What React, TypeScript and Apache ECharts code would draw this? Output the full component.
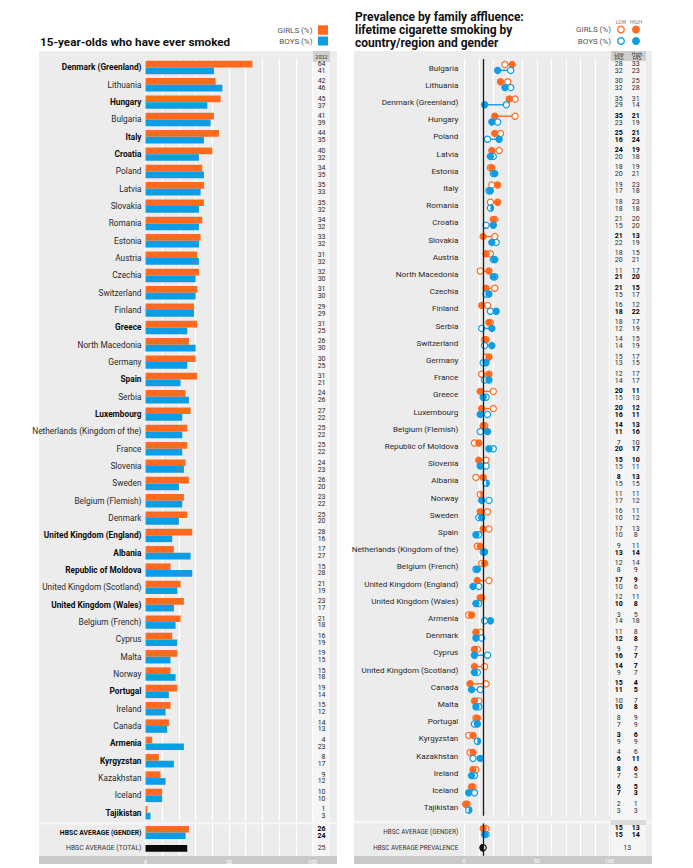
import React, { useEffect, useRef } from "react";
import * as echarts from "echarts";

const ORANGE = "#FF6A1F";
const BLUE = "#0E9DE2";
const LABEL_FONT = "Roboto, sans-serif";
const TITLE_FONT = "Roboto, 'Noto Sans', sans-serif";

// ---------- Left panel: 15-year-olds who have ever smoked ----------
const leftCountries = [
  "Denmark (Greenland)", "Lithuania", "Hungary", "Bulgaria", "Italy", "Croatia", "Poland", "Latvia",
  "Slovakia", "Romania", "Estonia", "Austria", "Czechia", "Switzerland", "Finland", "Greece",
  "North Macedonia", "Germany", "Spain", "Serbia", "Luxembourg", "Netherlands (Kingdom of the)",
  "France", "Slovenia", "Sweden", "Belgium (Flemish)", "Denmark", "United Kingdom (England)",
  "Albania", "Republic of Moldova", "United Kingdom (Scotland)", "United Kingdom (Wales)",
  "Belgium (French)", "Cyprus", "Malta", "Norway", "Portugal", "Ireland", "Canada", "Armenia",
  "Kyrgyzstan", "Kazakhstan", "Iceland", "Tajikistan",
];
const leftGirls = [64, 42, 45, 41, 44, 40, 34, 35, 35, 34, 33, 31, 32, 31, 29, 31, 26, 30, 31, 24, 27, 25, 25, 24, 26, 23, 25, 28, 17, 15, 21, 23, 21, 16, 19, 15, 19, 15, 14, 4, 8, 9, 10, 1];
const leftBoys = [41, 46, 37, 39, 35, 32, 35, 33, 32, 32, 32, 32, 30, 30, 29, 25, 30, 25, 21, 26, 22, 22, 22, 23, 20, 22, 20, 16, 27, 28, 19, 17, 18, 19, 15, 18, 14, 12, 13, 23, 17, 12, 10, 3];
const leftBold = [
  "Denmark (Greenland)", "Hungary", "Italy", "Croatia", "Greece", "Spain", "Luxembourg",
  "United Kingdom (England)", "Albania", "Republic of Moldova", "United Kingdom (Wales)",
  "Portugal", "Armenia", "Kyrgyzstan", "Tajikistan",
];
const leftAvgGenderLabel = ["HBSC AVERAGE (GENDER)"];
const leftAvgGirls = [26];
const leftAvgBoys = [24];
const leftAvgTotalLabel = ["HBSC AVERAGE (TOTAL)"];
const leftAvgTotal = [25];
const leftYear = "2022";

// ---------- Right panel: prevalence by family affluence ----------
const rightCountries = [
  "Bulgaria", "Lithuania", "Denmark (Greenland)", "Hungary", "Poland", "Latvia", "Estonia", "Italy",
  "Romania", "Croatia", "Slovakia", "Austria", "North Macedonia", "Czechia", "Finland", "Serbia",
  "Switzerland", "Germany", "France", "Greece", "Luxembourg", "Belgium (Flemish)",
  "Republic of Moldova", "Slovenia", "Albania", "Norway", "Sweden", "Spain",
  "Netherlands (Kingdom of the)", "Belgium (French)", "United Kingdom (England)",
  "United Kingdom (Wales)", "Armenia", "Denmark", "Cyprus", "United Kingdom (Scotland)", "Canada",
  "Malta", "Portugal", "Kyrgyzstan", "Kazakhstan", "Ireland", "Iceland", "Tajikistan",
];
const girlsLow = [28, 30, 35, 35, 25, 24, 18, 19, 18, 21, 21, 18, 11, 21, 16, 18, 14, 15, 12, 20, 20, 14, 7, 15, 8, 11, 16, 17, 9, 12, 17, 12, 3, 11, 9, 14, 15, 10, 8, 3, 4, 8, 6, 2];
const girlsHigh = [33, 25, 31, 21, 21, 19, 19, 23, 23, 20, 13, 15, 17, 15, 12, 17, 15, 17, 17, 11, 12, 13, 10, 10, 13, 11, 11, 13, 11, 14, 9, 11, 5, 8, 7, 7, 4, 7, 9, 6, 6, 6, 5, 1];
const boysLow = [32, 32, 29, 23, 16, 20, 20, 17, 18, 15, 22, 20, 21, 15, 18, 12, 14, 13, 14, 15, 16, 11, 20, 15, 15, 17, 10, 10, 13, 8, 10, 10, 14, 12, 16, 9, 11, 10, 7, 9, 6, 7, 7, 3];
const boysHigh = [23, 28, 14, 19, 24, 18, 21, 18, 18, 20, 19, 21, 20, 17, 22, 19, 19, 15, 17, 13, 11, 16, 17, 11, 15, 12, 12, 8, 14, 9, 6, 8, 18, 8, 7, 7, 5, 8, 9, 9, 11, 5, 3, 3];
const girlsBoldR = [
  "Hungary", "Poland", "Latvia", "Slovakia", "Czechia", "Greece", "Luxembourg", "Belgium (Flemish)",
  "Slovenia", "Albania", "United Kingdom (England)", "United Kingdom (Scotland)", "Canada",
  "Kyrgyzstan", "Ireland", "Iceland",
];
const boysBoldR = [
  "Poland", "North Macedonia", "Finland", "Luxembourg", "Belgium (Flemish)", "Republic of Moldova",
  "Netherlands (Kingdom of the)", "United Kingdom (Wales)", "Denmark", "Cyprus", "Canada", "Malta",
  "Kazakhstan", "Iceland",
];
const rightAvgLabels = ["HBSC AVERAGE (GENDER)", "HBSC AVERAGE PREVALENCE"];
const avgGirlsLow = 15;
const avgGirlsHigh = 13;
const avgBoysLow = 15;
const avgBoysHigh = 14;
const avgPrevalence = 13;

const xTicks = [0, 50, 100];

export default function App() {
  const ref = useRef<HTMLDivElement>(null);

  useEffect(() => {
    const chart = echarts.init(ref.current!, undefined, { renderer: "svg" });

    const mkRich = (size: number, small: number) => ({
      n: { fontSize: size, fontFamily: LABEL_FONT, color: "#2a2a2a" },
      b: { fontSize: size, fontFamily: LABEL_FONT, color: "#0d0d0d", fontWeight: "bold" },
      sn: { fontSize: small, fontFamily: LABEL_FONT, color: "#333" },
      sb: { fontSize: small, fontFamily: LABEL_FONT, color: "#0d0d0d", fontWeight: "bold" },
    });
    const labelRich = mkRich(8.3, 6.8);
    const labelRichR = mkRich(8.1, 6.3);
    const numRich = {
      n: { fontSize: 7, lineHeight: 6.8, fontFamily: LABEL_FONT, color: "#2a2a2a" },
      b: { fontSize: 7, lineHeight: 6.8, fontFamily: LABEL_FONT, color: "#000", fontWeight: "bold" },
    };

    const xAxisBase = (gridIndex: number, showLabels: boolean) => ({
      type: "value",
      gridIndex,
      min: 0,
      max: 100,
      interval: 10,
      axisLine: { show: false },
      axisTick: { show: false },
      splitLine: { show: true, lineStyle: { color: "#ffffff", width: 1.2 } },
      axisLabel: {
        show: showLabels,
        margin: 2.5,
        fontSize: 5.5,
        color: "#ffffff",
        fontFamily: LABEL_FONT,
        formatter: (v: number) => (xTicks.includes(v) ? String(v) : ""),
      },
    });

    const catAxis = (gridIndex: number, data: string[], extra: any) => ({
      type: "category",
      gridIndex,
      data,
      inverse: true,
      axisLine: { show: false },
      axisTick: { show: false },
      splitLine: { show: false },
      ...extra,
    });

    const leftGrid = { left: 145.5, width: 167 };
    const rightGrid = { left: 464.3, width: 145 };

    const grids = [
      { ...leftGrid, top: 58.8, height: 762.6 },
      { ...leftGrid, top: 824.6, height: 15.8 },
      { ...leftGrid, top: 840.4, height: 15.8 },
      { ...rightGrid, top: 58.9, height: 756.8 },
      { ...rightGrid, top: 823.4, height: 32.4 },
    ];

    const yAxes = [
      catAxis(0, leftCountries, {
        position: "left",
        axisLabel: {
          margin: 4,
          formatter: (v: string) => (leftBold.includes(v) ? `{b|${v}}` : `{n|${v}}`),
          rich: labelRich,
        },
      }),
      catAxis(0, leftCountries, {
        position: "right",
        axisLabel: {
          margin: 13,
          align: "right",
          formatter: (_v: string, i: number) => `{n|${leftGirls[i]}}\n{n|${leftBoys[i]}}`,
          rich: numRich,
        },
      }),
      catAxis(1, leftAvgGenderLabel, {
        position: "left",
        axisLabel: { margin: 4, formatter: (v: string) => `{sb|${v}}`, rich: labelRich },
      }),
      catAxis(1, leftAvgGenderLabel, {
        position: "right",
        axisLabel: {
          margin: 13,
          align: "right",
          formatter: (_v: string, i: number) => `{b|${leftAvgGirls[i]}}\n{b|${leftAvgBoys[i]}}`,
          rich: numRich,
        },
      }),
      catAxis(2, leftAvgTotalLabel, {
        position: "left",
        axisLabel: { margin: 4, formatter: (v: string) => `{sn|${v}}`, rich: labelRich },
      }),
      catAxis(2, leftAvgTotalLabel, {
        position: "right",
        axisLabel: {
          margin: 13,
          align: "right",
          formatter: (_v: string, i: number) => `{n|${leftAvgTotal[i]}}`,
          rich: numRich,
        },
      }),
      catAxis(3, rightCountries, {
        position: "left",
        axisLabel: { margin: 6, formatter: (v: string) => `{n|${v}}`, rich: labelRichR },
      }),
      catAxis(3, rightCountries, {
        position: "right",
        axisLabel: {
          margin: 9.5,
          align: "center",
          formatter: (v: string, i: number) =>
            `{${girlsBoldR.includes(v) ? "b" : "n"}|${girlsLow[i]}}\n{${boysBoldR.includes(v) ? "b" : "n"}|${boysLow[i]}}`,
          rich: numRich,
        },
      }),
      catAxis(3, rightCountries, {
        position: "right",
        axisLabel: {
          margin: 26.5,
          align: "center",
          formatter: (v: string, i: number) =>
            `{${girlsBoldR.includes(v) ? "b" : "n"}|${girlsHigh[i]}}\n{${boysBoldR.includes(v) ? "b" : "n"}|${boysHigh[i]}}`,
          rich: numRich,
        },
      }),
      catAxis(4, rightAvgLabels, {
        position: "left",
        axisLabel: { margin: 6, formatter: (v: string) => `{sn|${v}}`, rich: labelRichR },
      }),
      catAxis(4, rightAvgLabels, {
        position: "right",
        axisLabel: {
          margin: 9.5,
          align: "center",
          formatter: (_v: string, i: number) => (i === 0 ? `{b|${avgGirlsLow}}\n{b|${avgBoysLow}}` : ""),
          rich: numRich,
        },
      }),
      catAxis(4, rightAvgLabels, {
        position: "right",
        axisLabel: {
          margin: 26.5,
          align: "center",
          formatter: (_v: string, i: number) => (i === 0 ? `{b|${avgGirlsHigh}}\n{b|${avgBoysHigh}}` : ""),
          rich: numRich,
        },
      }),
      catAxis(4, rightAvgLabels, {
        position: "right",
        axisLabel: {
          margin: 18,
          align: "center",
          formatter: (_v: string, i: number) => (i === 1 ? `{n|${avgPrevalence}}` : ""),
          rich: numRich,
        },
      }),
    ];

    const R = 3.1;
    const OFF = 2.9;
    const dumbbell = (_params: any, api: any) => {
      const idx = api.value(0);
      const children: any[] = [];
      const pair = (lo: number, hi: number, color: string, dy: number) => {
        const a = api.coord([lo, idx]);
        const b = api.coord([hi, idx]);
        const y = a[1] + dy;
        children.push({
          type: "line",
          shape: { x1: a[0], y1: y, x2: b[0], y2: y },
          style: { stroke: color, lineWidth: 1.4 },
        });
        children.push({
          type: "circle",
          shape: { cx: a[0], cy: y, r: R },
          style: { fill: "#ffffff", stroke: color, lineWidth: 1.2 },
        });
        if (lo === hi) {
          children.push({
            type: "sector",
            shape: { cx: b[0], cy: y, r0: 0, r: R + 0.6, startAngle: -Math.PI / 2, endAngle: Math.PI / 2, clockwise: true },
            style: { fill: color },
          });
        } else {
          children.push({
            type: "circle",
            shape: { cx: b[0], cy: y, r: R + 0.6 },
            style: { fill: color },
          });
        }
      };
      pair(api.value(1), api.value(2), ORANGE, -OFF);
      pair(api.value(3), api.value(4), BLUE, OFF);
      return { type: "group", children };
    };

    const prevalenceItem = (_params: any, api: any) => {
      const p = api.coord([api.value(1), api.value(0)]);
      return {
        type: "group",
        children: [
          { type: "circle", shape: { cx: p[0], cy: p[1], r: R }, style: { fill: "#ffffff", stroke: "#111", lineWidth: 1.2 } },
          {
            type: "sector",
            shape: { cx: p[0], cy: p[1], r0: 0, r: R + 0.6, startAngle: Math.PI / 2, endAngle: (3 * Math.PI) / 2, clockwise: true },
            style: { fill: "#111" },
          },
        ],
      };
    };

    const avgLine = (v: number) => ({
      silent: true,
      symbol: "none",
      label: { show: false },
      lineStyle: { color: "#1a1a1a", width: 1.3, type: "solid" },
      data: [{ xAxis: v }],
    });

    const series: any[] = [
      { type: "bar", name: "Girls", xAxisIndex: 0, yAxisIndex: 0, data: leftGirls, barWidth: 6.7, barGap: "0%", itemStyle: { color: ORANGE } },
      { type: "bar", name: "Boys", xAxisIndex: 0, yAxisIndex: 0, data: leftBoys, barWidth: 6.7, barGap: "0%", itemStyle: { color: BLUE } },
      { type: "bar", name: "Girls avg", xAxisIndex: 1, yAxisIndex: 2, data: leftAvgGirls, barWidth: 6.4, barGap: "0%", itemStyle: { color: ORANGE } },
      { type: "bar", name: "Boys avg", xAxisIndex: 1, yAxisIndex: 2, data: leftAvgBoys, barWidth: 6.4, barGap: "0%", itemStyle: { color: BLUE } },
      { type: "bar", name: "Total avg", xAxisIndex: 2, yAxisIndex: 4, data: leftAvgTotal, barWidth: 6.7, itemStyle: { color: "#0a0a0a" } },
      {
        type: "custom",
        name: "FAS",
        xAxisIndex: 3,
        yAxisIndex: 6,
        renderItem: dumbbell,
        encode: { x: [1, 2, 3, 4], y: 0 },
        data: rightCountries.map((_c, i) => [i, girlsLow[i], girlsHigh[i], boysLow[i], boysHigh[i]]),
        markLine: avgLine(avgPrevalence),
        z: 3,
      },
      {
        type: "custom",
        name: "FAS avg",
        xAxisIndex: 4,
        yAxisIndex: 9,
        renderItem: dumbbell,
        encode: { x: [1, 2, 3, 4], y: 0 },
        data: [[0, avgGirlsLow, avgGirlsHigh, avgBoysLow, avgBoysHigh]],
        markLine: avgLine(avgPrevalence),
        z: 3,
      },
      {
        type: "custom",
        name: "Prevalence",
        xAxisIndex: 4,
        yAxisIndex: 9,
        renderItem: prevalenceItem,
        encode: { x: 1, y: 0 },
        data: [[1, avgPrevalence]],
        z: 4,
      },
    ];

    const txt = (x: number, y: number, text: string, o: any = {}) => ({
      type: "text",
      x,
      y,
      z: 5,
      style: {
        text,
        fontSize: o.fontSize ?? 8,
        fontFamily: o.fontFamily ?? LABEL_FONT,
        fontWeight: o.fontWeight ?? "normal",
        fill: o.fill ?? "#555",
        align: o.align ?? "left",
        verticalAlign: o.verticalAlign ?? "middle",
        textAlign: o.align ?? "left",
        textVerticalAlign: o.verticalAlign ?? "middle",
        lineHeight: o.lineHeight,
      },
    });
    const rect = (x: number, y: number, w: number, h: number, fill: string, z = -10) => ({
      type: "rect",
      z,
      shape: { x, y, width: w, height: h },
      style: { fill },
    });

    const graphic: any[] = [
      rect(39, 51, 298, 805, "#EBECEB"),
      rect(313, 51, 17, 805, "#F5F5F5", -9),
      rect(313, 51, 17, 11, "#CFCFCF", -8),
      rect(39, 822, 298, 2.5, "#F6F6F6", -8),
      rect(39, 856, 298, 8, "#C9C9C9", -8),
      rect(354, 51, 298, 805, "#EBECEB"),
      rect(611, 51, 35, 805, "#F5F5F5", -9),
      rect(611, 51, 35, 10, "#CFCFCF", -8),
      rect(354, 821, 298, 2.5, "#F6F6F6", -8),
      rect(611, 820, 35, 5, "#DADADA", -8),
      rect(354, 856, 298, 8, "#C9C9C9", -8),
      txt(40, 41.5, "15-year-olds who have ever smoked", { fontSize: 11.7, fontWeight: "bold", fill: "#111", fontFamily: TITLE_FONT }),
      txt(312.5, 30, "GIRLS (%)", { align: "right" }),
      txt(312.5, 41, "BOYS (%)", { align: "right" }),
      { type: "rect", z: 5, shape: { x: 318, y: 25.3, width: 10, height: 9.5 }, style: { fill: ORANGE } },
      { type: "rect", z: 5, shape: { x: 318, y: 36.5, width: 10, height: 9 }, style: { fill: BLUE } },
      txt(321.5, 56.8, leftYear, { align: "center", fontSize: 5.5, fill: "#333" }),
      txt(355, 11, "Prevalence by family affluence:\nlifetime cigarette smoking by\ncountry/region and gender", {
        fontSize: 12, fontWeight: "bold", fill: "#111", fontFamily: TITLE_FONT, verticalAlign: "top", lineHeight: 12.6,
      }),
      txt(621, 22, "LOW", { align: "center", fontSize: 5, fill: "#777" }),
      txt(636, 22, "HIGH", { align: "center", fontSize: 5, fill: "#777" }),
      txt(611, 29.5, "GIRLS (%)", { align: "right" }),
      txt(611, 41, "BOYS (%)", { align: "right" }),
      { type: "circle", z: 5, shape: { cx: 621, cy: 29.5, r: 3.3 }, style: { fill: "#fff", stroke: ORANGE, lineWidth: 1.3 } },
      { type: "circle", z: 5, shape: { cx: 636, cy: 29.5, r: 4 }, style: { fill: ORANGE } },
      { type: "circle", z: 5, shape: { cx: 621, cy: 41, r: 3.3 }, style: { fill: "#fff", stroke: BLUE, lineWidth: 1.3 } },
      { type: "circle", z: 5, shape: { cx: 636, cy: 41, r: 4 }, style: { fill: BLUE } },
      txt(619, 56, "Low\nFAS", { align: "center", fontSize: 5, fill: "#333", lineHeight: 4.6 }),
      txt(637, 56, "High\nFAS", { align: "center", fontSize: 5, fill: "#333", lineHeight: 4.6 }),
    ];

    chart.setOption({
      animation: false,
      backgroundColor: "#ffffff",
      grid: grids,
      xAxis: [xAxisBase(0, false), xAxisBase(1, false), xAxisBase(2, true), xAxisBase(3, false), xAxisBase(4, true)],
      yAxis: yAxes,
      series,
      graphic,
    });

    return () => chart.dispose();
  }, []);

  return <div ref={ref} style={{ position: "absolute", left: 0, top: 0, width: 693, height: 868 }} />;
}
